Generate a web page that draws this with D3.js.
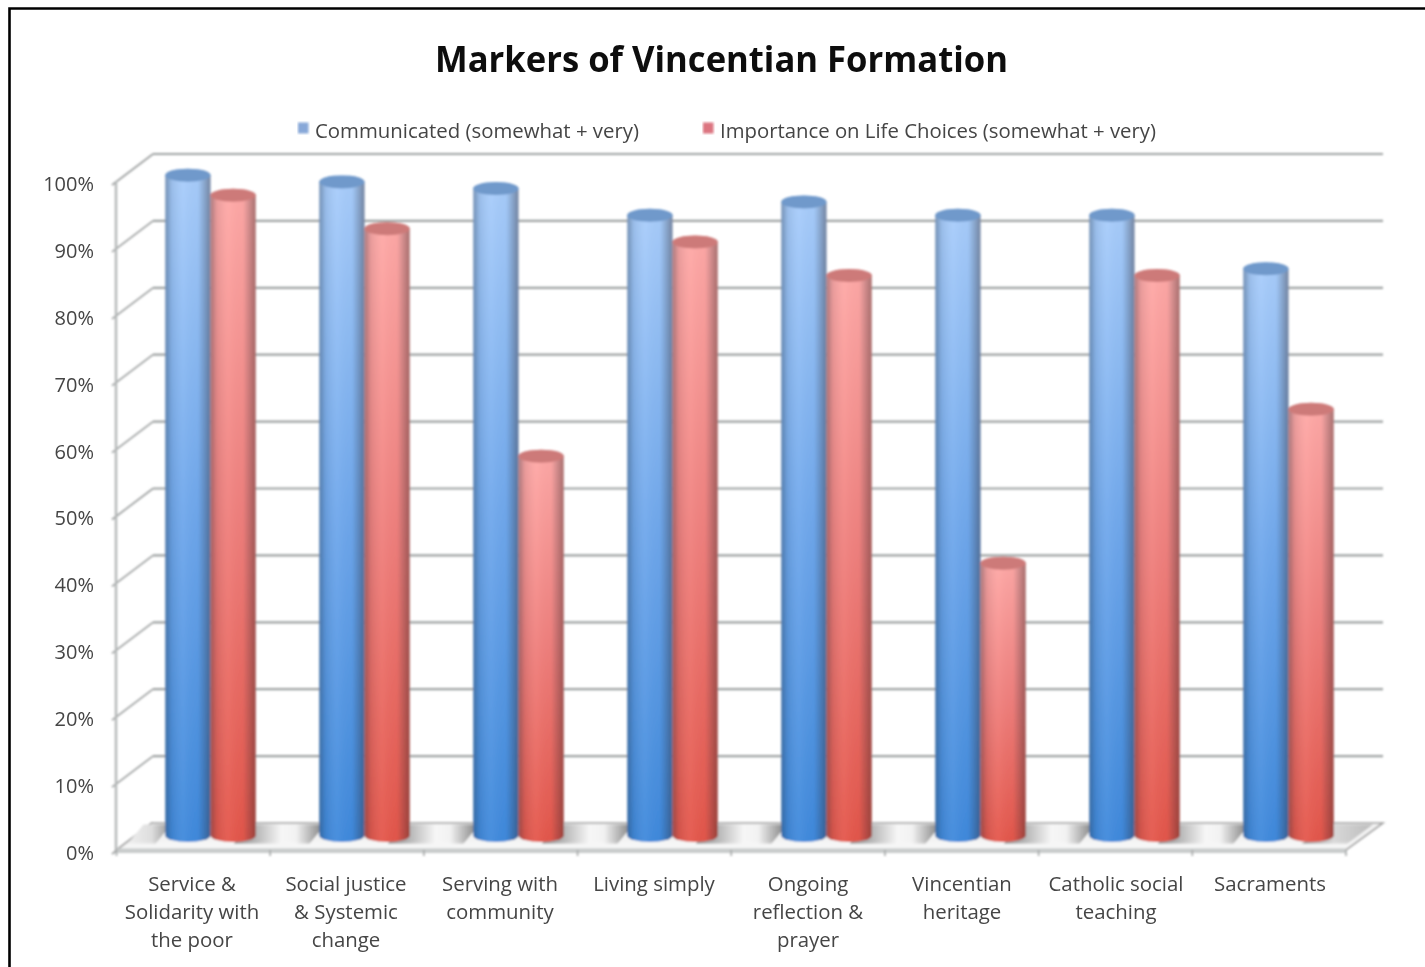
<!DOCTYPE html>
<html><head><meta charset="utf-8">
<script src="https://cdnjs.cloudflare.com/ajax/libs/d3/7.8.5/d3.min.js"></script>
<style>html,body{margin:0;padding:0;background:#fff}svg{display:block}</style>
</head><body><div id="chart"></div>
<script>
const chartTitle = "Markers of Vincentian Formation";
const categories = [
  ["Service &","Solidarity with","the poor"],
  ["Social justice","& Systemic","change"],
  ["Serving with","community"],
  ["Living simply"],
  ["Ongoing","reflection &","prayer"],
  ["Vincentian","heritage"],
  ["Catholic social","teaching"],
  ["Sacraments"]
];
const seriesNames = ["Communicated (somewhat + very)","Importance on Life Choices (somewhat + very)"];
const communicated = [99,98,97,93,95,93,93,85];
const importance = [96,91,57,89,84,41,84,64];
const yTicks = [0,10,20,30,40,50,60,70,80,90,100];

const W=1425,H=967, depthX=35, depthY=27, barW=45.2, ry=6.5;
const svg=d3.select("#chart").append("svg").attr("width",W).attr("height",H);
const defs=svg.append("defs");
defs.append("filter").attr("id","soft").attr("x","-5%").attr("y","-5%").attr("width","110%").attr("height","110%")
  .append("feGaussianBlur").attr("stdDeviation",0.9);
defs.append("filter").attr("id","softT").attr("x","-5%").attr("y","-20%").attr("width","110%").attr("height","140%")
  .append("feGaussianBlur").attr("stdDeviation",0.6);
function grad(id,stops,h){
  const g=defs.append("linearGradient").attr("id",id).attr("x1",0).attr("y1",0).attr("x2",h?1:0).attr("y2",h?0:1);
  stops.forEach(s=>g.append("stop").attr("offset",s[0]).attr("stop-color",s[1]).attr("stop-opacity",s[2]===undefined?1:s[2]));
}
grad("blueV",[[0,"#a9cdfb"],[0.5,"#70a8ec"],[1,"#3f89dc"]]);
grad("redV",[[0,"#ffa9a7"],[0.5,"#f07f7c"],[1,"#e4564a"]]);
grad("shade",[[0,"#203040",0.38],[0.14,"#203040",0.1],[0.4,"#ffffff",0.05],[0.72,"#203040",0.02],[1,"#302020",0.42]],true);
grad("gapM",[[0,"#7e7e7e"],[0.25,"#b8b8b8"],[0.52,"#f6f6f6"],[0.68,"#f2f2f2"],[1,"#7a7a7a"]],true);
grad("gapL",[[0,"#eeeeee"],[0.55,"#dedede"],[1,"#909090"]],true);
grad("gapR",[[0,"#7e7e7e"],[0.45,"#d8d8d8"],[1,"#bcbcbc"]],true);
grad("floorFade",[[0,"#ffffff",0],[0.7,"#ffffff",0],[1,"#f4f5f5",0.85]]);

const x=d3.scaleBand().domain(d3.range(categories.length)).range([118,1350]);
const xTick=d3.scaleLinear().domain([0,categories.length]).range([116.5,1346]);
const y=d3.scaleLinear().domain([0,100]).range([850,181]);
const colorIds=["blueV","redV"], capColors=["#7099cb","#cd7a79"], series=[communicated,importance];
const inner=d3.scaleBand().domain([0,1]).range([-barW,barW]);
const pct=d=>d+"%";
const barMid=i=>x(i)+x.bandwidth()/2+depthX/2-2;

const root=svg.append("g");
// frame
root.append("path").attr("d",`M9.5,${H} V8.5 H${W}`).attr("fill","none").attr("stroke","#000").attr("stroke-width",2.6);

const plot=root.append("g").attr("filter","url(#soft)");
const gridColor="#9ea2a2";
// back-wall gridlines and side-wall diagonals
plot.selectAll("line.grid").data(yTicks.filter(d=>d>0)).join("line")
  .attr("x1",118+depthX).attr("x2",1383).attr("y1",d=>y(d)-depthY).attr("y2",d=>y(d)-depthY)
  .attr("stroke",gridColor).attr("stroke-width",2.2);
plot.selectAll("line.diag").data(yTicks).join("line")
  .attr("x1",112).attr("y1",d=>y(d)+4).attr("x2",118+depthX).attr("y2",d=>y(d)-depthY)
  .attr("stroke","#9a9d9d").attr("stroke-width",1.6);
// side axis
plot.append("line").attr("x1",116).attr("x2",116).attr("y1",y(0)).attr("y2",y(100))
  .attr("stroke","#b4b7b7").attr("stroke-width",2.4);
// floor
const fx0=116.5, fx1=1346, fy=y(0);
plot.append("path").attr("d",`M${fx0},${fy} L${fx0+depthX},${fy-depthY} L${fx1+depthX+2},${fy-depthY} L${fx1},${fy} Z`)
  .attr("fill","#f3f3f3").attr("stroke","#a0a0a0").attr("stroke-width",1.6);
const n=categories.length;
plot.selectAll("path.gap").data(d3.range(n+1)).join("path")
  .attr("d",i=>{
    const l=i===0?fx0+depthX-8:barMid(i-1)+barW-6, r=i===n?fx1+depthX-8:barMid(i)-barW+6;
    const skew=i===n?26:16;
    return `M${l},${fy-depthY+1.5} L${r},${fy-depthY+1.5} L${r-skew},${fy-6} L${l-(i===0?16:skew)},${fy-6} Z`;
  }).attr("fill",i=>i===0?"url(#gapL)":i===n?"url(#gapR)":"url(#gapM)");
plot.append("path").attr("d",`M${fx0+6},${fy-2} L${fx0+depthX},${fy-depthY+1.5} L${fx1+depthX},${fy-depthY+1.5} L${fx1},${fy-2} Z`)
  .attr("fill","url(#floorFade)");
// floor front edge
plot.append("rect").attr("x",fx0).attr("y",fy-1.5).attr("width",fx1-fx0).attr("height",4.5).attr("fill","#c8cbcb");
// x ticks
plot.selectAll("line.xt").data(d3.range(n+1)).join("line")
  .attr("x1",i=>xTick(i)).attr("x2",i=>xTick(i)).attr("y1",fy).attr("y2",fy+6)
  .attr("stroke","#a4a7a7").attr("stroke-width",1.6);

// cylinders
function cyl(cx,top,base){
  const a=barW/2;
  return `M${cx-a},${top} V${base} A${a},${ry} 0 0 0 ${cx+a},${base} V${top} A${a},${ry} 0 0 0 ${cx-a},${top} Z`;
}
const barsG=plot.append("g");
categories.forEach((c,i)=>{
  [0,1].forEach(s=>{
    const cx=barMid(i)+inner(s)+inner.bandwidth()/2;
    const top=y(series[s][i])-depthY/2+1, base=y(0)-depthY/2-1;
    const g=barsG.append("g");
    g.append("path").attr("d",cyl(cx,top,base)).attr("fill",`url(#${colorIds[s]})`);
    g.append("path").attr("d",cyl(cx,top,base)).attr("fill","url(#shade)");
    g.append("ellipse").attr("cx",cx).attr("cy",top).attr("rx",barW/2).attr("ry",ry).attr("fill",capColors[s]);
  });
});

const font="'Open Sans','Noto Sans',sans-serif";
const txt=root.append("g").attr("filter","url(#softT)").attr("font-family",font).attr("fill","#454545");
// y labels, drawn with a d3 axis
const axisG=txt.append("g").attr("transform","translate(118,3)")
  .call(d3.axisLeft(y).tickValues(yTicks).tickFormat(pct).tickSize(0).tickPadding(24));
axisG.select(".domain").remove();
axisG.selectAll("text").attr("font-size",20).attr("font-family",font).attr("fill","#454545");

// category labels
const catG=txt.selectAll("text.cat").data(categories).join("text").attr("class","cat")
  .attr("text-anchor","middle").attr("font-size",20.4)
  .attr("x",(d,i)=>x(i)+x.bandwidth()/2-3);
catG.selectAll("tspan").data(d=>d).join("tspan")
  .attr("x",function(){return d3.select(this.parentNode).attr("x");})
  .attr("y",(d,i)=>891+i*28).text(d=>d);

// legend
const legX=[298,703], legT=[315,720], legLen=[324,436];
seriesNames.forEach((n,i)=>{
  root.append("rect").attr("x",legX[i]).attr("y",122.5).attr("width",10.5).attr("height",11)
    .attr("fill",["#88a8d8","#dc7480"][i]).attr("filter","url(#soft)");
  txt.append("text").attr("x",legT[i]).attr("y",138).attr("font-size",20)
    .attr("textLength",legLen[i]).attr("lengthAdjust","spacingAndGlyphs").text(n);
});
// title
root.append("text").attr("x",721.5).attr("y",72).attr("text-anchor","middle").attr("font-family",font)
  .attr("font-weight",700).attr("font-size",36).attr("fill","#0c0c0c")
  .attr("textLength",573).attr("lengthAdjust","spacingAndGlyphs").attr("filter","url(#softT)").text(chartTitle);
</script></body></html>
